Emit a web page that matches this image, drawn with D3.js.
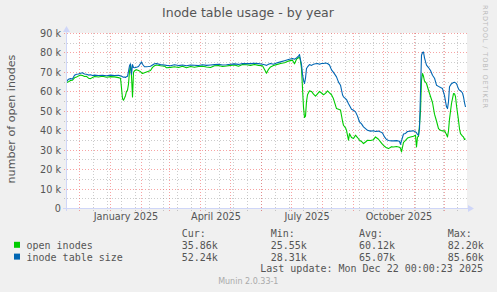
<!DOCTYPE html>
<html>
<head>
<meta charset="utf-8">
<script src="https://cdn.jsdelivr.net/npm/d3@7"></script>
<style>
    body { margin: 0; background: #F0F0F0; }
    svg { display: block; }
    text { font-family: "DejaVu Sans", sans-serif; fill: #555; }
    .mono { font-family: "DejaVu Sans Mono", monospace; font-size: 10px; }
</style>
</head>
<body>
<div id="chart"></div>
<script>
// Chart values (day offsets from 18 Nov 2024, values in k)
var days = [0, 2, 4, 6, 8, 10, 12, 14, 16, 18, 20, 22, 24, 26, 28, 32, 36, 40, 44, 48,
    52, 54, 55, 56, 57, 58, 59, 60, 61, 62, 63, 64, 65, 66, 67, 68, 70, 72, 74, 75,
    76, 78, 80, 82, 84, 86, 88, 90, 94, 98, 100, 104, 108, 112, 116, 120, 124, 128, 132, 136,
    140, 144, 148, 152, 156, 160, 164, 168, 172, 176, 180, 184, 188, 192, 196, 199, 200, 202, 204, 207,
    210, 214, 218, 222, 226, 228, 230, 232, 233, 234, 235, 236, 237, 238, 239, 240, 241, 243, 245, 247,
    249, 251, 253, 255, 257, 259, 261, 263, 265, 267, 270, 272, 274, 276, 277, 279, 280, 282, 283, 285,
    287, 289, 291, 293, 295, 297, 299, 301, 304, 307, 309, 312, 314, 316, 318, 320, 322, 325, 327, 330,
    333, 334, 335, 337, 339, 341, 344, 347, 349, 350, 351, 352, 353, 354, 355, 356, 357, 358, 359, 360,
    362, 364, 366, 368, 370, 372, 374, 376, 378, 380, 381, 382, 383, 385, 387, 388, 389, 390, 392, 393,
    394, 396, 397, 398, 399];

var openInodes = [64.8, 65.2, 65.8, 66.0, 67.2, 67.6, 68.2, 68.6, 68.4, 67.9, 68.0, 67.0, 66.8, 67.4, 67.9, 67.6, 68.0, 67.5, 67.8, 67.7,
    67.3, 67.0, 62.0, 56.5, 55.7, 56.8, 58.0, 60.2, 60.8, 64.0, 70.5, 73.8, 68.0, 57.4, 70.0, 70.8, 71.4, 71.0, 70.4, 69.8,
    69.4, 69.8, 70.2, 70.6, 71.0, 72.6, 73.4, 73.8, 73.4, 73.2, 72.4, 72.6, 72.9, 72.5, 73.2, 72.4, 73.0, 72.6, 73.0, 73.2,
    72.8, 72.5, 73.4, 73.5, 73.0, 73.3, 73.6, 73.8, 73.2, 74.0, 73.9, 73.6, 74.1, 73.6, 73.4, 70.6, 69.6, 71.6, 72.8, 73.5,
    74.0, 74.6, 75.0, 75.8, 76.3, 74.4, 76.8, 77.5, 77.9, 76.0, 72.0, 62.0, 52.0, 46.8, 47.5, 55.0, 58.5, 60.5, 60.2, 58.8,
    57.8, 59.0, 60.2, 59.4, 58.5, 59.2, 60.5, 59.5, 58.5, 56.4, 51.4, 51.0, 50.6, 45.0, 42.8, 41.5, 40.2, 35.1, 38.5, 36.5,
    36.0, 37.7, 36.5, 35.1, 34.5, 33.4, 34.2, 35.1, 35.0, 35.4, 36.8, 35.6, 34.3, 33.0, 32.0, 31.2, 30.8, 31.8, 31.6, 31.9,
    31.5, 31.0, 29.1, 34.0, 35.0, 36.2, 36.8, 37.2, 37.7, 31.6, 36.8, 37.0, 43.0, 50.0, 66.0, 69.4, 68.0, 65.5, 65.0, 64.3,
    60.8, 57.6, 54.5, 48.5, 45.0, 41.1, 40.2, 39.9, 40.0, 38.0, 36.8, 40.0, 46.0, 54.0, 59.1, 59.0, 57.5, 53.0, 45.3, 41.0,
    38.5, 37.2, 36.8, 35.5, 35.9];

var tableSize = [65.3, 66.5, 66.8, 66.6, 68.5, 69.0, 69.2, 69.6, 69.8, 69.2, 69.0, 68.6, 68.8, 68.4, 68.6, 68.4, 68.5, 68.3, 68.6, 68.4,
    68.5, 68.2, 68.0, 67.8, 67.5, 67.6, 67.4, 67.8, 68.0, 70.5, 73.4, 74.4, 69.0, 74.0, 72.5, 72.4, 72.6, 73.0, 74.6, 75.4,
    74.2, 72.9, 72.9, 73.0, 73.2, 73.8, 74.4, 74.6, 74.0, 73.8, 73.6, 73.4, 73.9, 73.5, 73.8, 73.4, 73.8, 73.7, 73.5, 73.9,
    73.6, 73.8, 74.0, 74.2, 73.8, 73.9, 74.2, 74.4, 74.1, 74.6, 74.5, 74.5, 74.7, 74.5, 74.2, 73.8, 73.6, 74.2, 74.6, 74.2,
    74.8, 75.4, 76.0, 76.6, 77.1, 76.8, 77.4, 78.4, 79.2, 76.5, 74.0, 69.0, 66.0, 64.3, 67.0, 72.0, 72.8, 74.0, 73.6, 74.2,
    74.4, 74.6, 74.2, 74.6, 74.6, 74.8, 74.6, 73.8, 71.3, 70.0, 67.7, 65.0, 63.4, 58.5, 57.4, 56.5, 56.0, 53.9, 53.0, 51.0,
    50.5, 49.7, 47.5, 44.5, 43.5, 42.0, 41.1, 40.2, 39.8, 40.0, 39.6, 39.8, 39.4, 38.8, 36.8, 35.5, 35.0, 34.8, 34.8, 34.9,
    34.6, 33.0, 34.8, 38.3, 38.6, 39.6, 39.8, 40.0, 39.4, 39.0, 38.0, 37.7, 41.0, 60.0, 78.8, 80.2, 80.5, 77.5, 75.5, 73.7,
    72.5, 71.0, 68.5, 67.0, 63.4, 62.8, 62.2, 61.7, 58.0, 52.3, 51.4, 55.0, 62.6, 64.2, 64.8, 64.9, 64.6, 64.2, 61.5, 60.8,
    60.6, 59.4, 57.4, 54.5, 52.2];

var seriesNames = ["open inodes", "inode table size"];
var seriesColors = ["#00CC00", "#0066B3"];
var curValues = ["35.86k", "52.24k"];
var minValues = ["25.55k", "28.31k"];
var avgValues = ["60.12k", "65.07k"];
var maxValues = ["82.20k", "85.60k"];

var yTicks = [0, 10, 20, 30, 40, 50, 60, 70, 80, 90];
var yTickLabels = ["0", "10 k", "20 k", "30 k", "40 k", "50 k", "60 k", "70 k", "80 k", "90 k"];
var xLabels = ["January 2025", "April 2025", "July 2025", "October 2025"];
var xLabelMonths = [new Date(Date.UTC(2025, 0, 1)), new Date(Date.UTC(2025, 3, 1)),
    new Date(Date.UTC(2025, 6, 1)), new Date(Date.UTC(2025, 9, 1))];

var startDate = new Date(Date.UTC(2024, 10, 18));
var endDate = new Date(Date.UTC(2025, 11, 23));

// Set up the box
var svgWidth = 497;
var svgHeight = 292;
var plot = { left: 66.5, right: 466.5, top: 33.5, bottom: 208.5 };

var svg = d3.select("#chart")
    .append("svg")
    .attr("width", svgWidth)
    .attr("height", svgHeight);

svg.append("rect")
    .attr("width", svgWidth)
    .attr("height", svgHeight)
    .attr("fill", "#F0F0F0");

// Scales
var xScale = d3.scaleUtc()
    .domain([startDate, endDate])
    .range([plot.left, plot.right]);

var yScale = d3.scaleLinear()
    .domain([0, 90])
    .range([plot.bottom, plot.top]);

function crispY(v) {
    return Math.floor(yScale(v)) + 0.5;
}
function crispX(d) {
    return Math.floor(xScale(d)) + 0.5;
}

// Canvas
svg.append("rect")
    .attr("x", 67)
    .attr("y", 33)
    .attr("width", 400)
    .attr("height", 175)
    .attr("fill", "#FFFFFF");

var gridGroup = svg.append("g")
    .attr("stroke-width", 1)
    .attr("stroke-dasharray", "1,2")
    .attr("shape-rendering", "crispEdges");

// Minor horizontal grid (every 5k)
var minorY = d3.range(5, 90, 10);
gridGroup.selectAll("line.minorY")
    .data(minorY)
    .enter()
    .append("line")
    .attr("x1", 64)
    .attr("x2", 469)
    .attr("y1", d => crispY(d))
    .attr("y2", d => crispY(d))
    .attr("stroke", "rgba(128,128,128,0.4)");

// Minor vertical grid (every 14 days)
var minorX = d3.utcDay.range(new Date(Date.UTC(2024, 11, 15)), endDate, 14);
gridGroup.selectAll("line.minorX")
    .data(minorX)
    .enter()
    .append("line")
    .attr("x1", d => crispX(d))
    .attr("x2", d => crispX(d))
    .attr("y1", 33)
    .attr("y2", 211)
    .attr("stroke", "rgba(128,128,128,0.4)");

// Major horizontal grid
gridGroup.selectAll("line.majorY")
    .data(yTicks.slice(1))
    .enter()
    .append("line")
    .attr("x1", 64)
    .attr("x2", 469)
    .attr("y1", d => crispY(d))
    .attr("y2", d => crispY(d))
    .attr("stroke", "rgba(240,90,90,0.55)");

// Major vertical grid (month starts)
var majorX = d3.utcMonth.range(startDate, endDate);
gridGroup.selectAll("line.majorX")
    .data(majorX)
    .enter()
    .append("line")
    .attr("x1", d => crispX(d))
    .attr("x2", d => crispX(d))
    .attr("y1", 33)
    .attr("y2", 211)
    .attr("stroke", "rgba(240,90,90,0.55)");

// Y tick labels
svg.append("g")
    .selectAll("text")
    .data(yTicks)
    .enter()
    .append("text")
    .attr("x", 61)
    .attr("y", d => crispY(d) + 3.5)
    .attr("text-anchor", "end")
    .style("font-size", "9.7px")
    .text((d, i) => yTickLabels[i]);

// X labels, centred half a month after the month start
svg.append("g")
    .selectAll("text")
    .data(xLabelMonths)
    .enter()
    .append("text")
    .attr("x", d => xScale(d3.utcHour.offset(d, 372)))
    .attr("y", 220)
    .attr("text-anchor", "middle")
    .style("font-size", "9.7px")
    .text((d, i) => xLabels[i]);

// Lines
var dates = days.map(d => d3.utcDay.offset(startDate, d));
var line = d3.line()
    .x((d, i) => xScale(dates[i]))
    .y(d => yScale(d));

[openInodes, tableSize].forEach(function(values, i) {
    svg.append("path")
        .datum(values)
        .attr("fill", "none")
        .attr("stroke", seriesColors[i])
        .attr("stroke-width", 1.1)
        .attr("stroke-linejoin", "round")
        .attr("d", line);
});

// Axes with arrows
var axisColor = "#CFD6F8";
svg.append("line")
    .attr("x1", 63).attr("x2", 469)
    .attr("y1", 208.5).attr("y2", 208.5)
    .attr("stroke", axisColor);
svg.append("line")
    .attr("x1", 66.5).attr("x2", 66.5)
    .attr("y1", 211).attr("y2", 31)
    .attr("stroke", axisColor);
svg.append("path")
    .attr("d", "M468,205 L474,208.5 L468,212 Z")
    .attr("fill", axisColor);
svg.append("path")
    .attr("d", "M63,32 L66.5,26 L70,32 Z")
    .attr("fill", axisColor);

// Title and axis title
svg.append("text")
    .attr("x", 248)
    .attr("y", 17)
    .attr("text-anchor", "middle")
    .style("font-size", "12.5px")
    .text("Inode table usage - by year");

svg.append("text")
    .attr("transform", "translate(14.5, 119) rotate(-90)")
    .attr("text-anchor", "middle")
    .style("font-size", "11.1px")
    .text("number of open inodes");

svg.append("text")
    .attr("transform", "translate(483, 5) rotate(90)")
    .attr("textLength", 103)
    .attr("lengthAdjust", "spacing")
    .style("font-size", "6.6px")
    .style("fill", "#BBBBBB")
    .text("RRDTOOL / TOBI OETIKER");

// Legend
var colX = [181.7, 270.7, 359, 447.7];
var headers = ["Cur:", "Min:", "Avg:", "Max:"];
var legendGroup = svg.append("g");

headers.forEach(function(h, j) {
    legendGroup.append("text")
        .attr("class", "mono")
        .attr("x", colX[j])
        .attr("y", 237)
        .text(h);
});

var rowY = [248.8, 260.6];
seriesNames.forEach(function(name, i) {
    legendGroup.append("rect")
        .attr("x", 14)
        .attr("y", rowY[i] - 7)
        .attr("width", 6)
        .attr("height", 6)
        .attr("fill", seriesColors[i]);
    legendGroup.append("text")
        .attr("class", "mono")
        .attr("x", 26.5)
        .attr("y", rowY[i])
        .text(name);
    [curValues, minValues, avgValues, maxValues].forEach(function(vals, j) {
        legendGroup.append("text")
            .attr("class", "mono")
            .attr("x", colX[j])
            .attr("y", rowY[i])
            .text(vals[i]);
    });
});

legendGroup.append("text")
    .attr("class", "mono")
    .attr("x", 483)
    .attr("y", 272.4)
    .attr("text-anchor", "end")
    .text("Last update: Mon Dec 22 00:00:23 2025");

svg.append("text")
    .attr("x", 248.3)
    .attr("y", 284)
    .attr("text-anchor", "middle")
    .style("font-size", "8px")
    .style("fill", "#AAAAAA")
    .text("Munin 2.0.33-1");
</script>
</body>
</html>
